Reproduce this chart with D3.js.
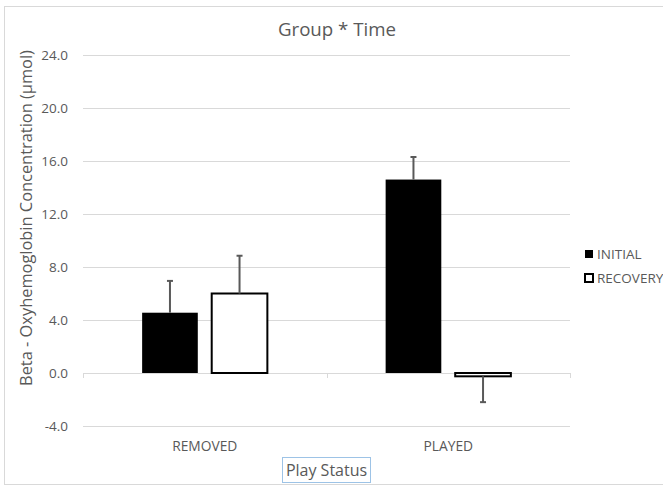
<!DOCTYPE html>
<html>
<head>
<meta charset="utf-8">
<script src="https://cdn.jsdelivr.net/npm/d3@7"></script>
<style>
    body { margin: 0; background: #fff; }
    text { font-family: "Open Sans", "Noto Sans", sans-serif; fill: #595959; }
</style>
</head>
<body>
<div id="example"></div>
<script>
(function () {
    var categories = ['REMOVED', 'PLAYED'],
        series = ['INITIAL', 'RECOVERY'],
        initialValues = [4.55, 14.6],
        recoveryValues = [6.0, -0.25],
        initialErrors = [2.4, 1.7],
        recoveryErrors = [2.85, 1.95],
        yTicks = [-4, 0, 4, 8, 12, 16, 20, 24];

    var width = 663,
        height = 486;

    var svg = d3.select('#example').append('svg')
        .attr('width', width).attr('height', height);

    // chart frame
    svg.append('rect')
        .attr('x', 4.5).attr('y', 6.5)
        .attr('width', width + 10).attr('height', height - 8)
        .style('fill', 'none').style('stroke', '#d9d9d9');

    var y = d3.scaleLinear().domain([-4, 24]).range([426, 55]);
    var x0 = d3.scaleBand().domain(categories).range([83, 570]);
    var x1 = d3.scaleBand().domain(series).range([0, x0.bandwidth()])
        .paddingInner(0.2).paddingOuter(0.85);

    var rows = categories.map(function (c, i) {
        return {
            cat: c,
            bars: [
                {s: 'INITIAL', v: initialValues[i], e: initialErrors[i]},
                {s: 'RECOVERY', v: recoveryValues[i], e: recoveryErrors[i]}
            ]
        };
    });

    var fmt = d3.formatLocale({decimal: '.', thousands: ',', grouping: [3], currency: ['', ''], minus: '-'}).format('.1f');

    // gridlines + y labels
    var grid = svg.append('g');
    grid.selectAll('line').data(yTicks).enter().append('line')
        .attr('x1', 83).attr('x2', 570)
        .attr('y1', function (d) { return Math.round(y(d)) + 0.5; })
        .attr('y2', function (d) { return Math.round(y(d)) + 0.5; })
        .style('stroke', '#d9d9d9');
    grid.selectAll('text').data(yTicks).enter().append('text')
        .attr('x', 68).attr('y', function (d) { return y(d); })
        .attr('dy', '0.35em')
        .attr('text-anchor', 'end')
        .style('font-size', '13.5px')
        .text(function (d) { return fmt(d); });

    // category ticks at zero line
    svg.append('g').selectAll('line')
        .data([83, x0.step() + 83, 570])
        .enter().append('line')
        .attr('x1', function (d) { return Math.round(d) + 0.5; })
        .attr('x2', function (d) { return Math.round(d) + 0.5; })
        .attr('y1', Math.round(y(0))).attr('y2', Math.round(y(0)) + 5)
        .style('stroke', '#d9d9d9');

    var groups = svg.append('g').selectAll('g').data(rows).enter().append('g')
        .attr('transform', function (d) { return 'translate(' + x0(d.cat) + ',0)'; });

    groups.selectAll('rect').data(function (d) { return d.bars; }).enter().append('rect')
        .attr('x', function (d) { return x1(d.s); })
        .attr('width', x1.bandwidth())
        .attr('y', function (d) { return y(Math.max(0, d.v)); })
        .attr('height', function (d) { return Math.abs(y(d.v) - y(0)); })
        .style('fill', function (d) { return d.s === 'INITIAL' ? '#000' : '#fff'; })
        .style('stroke', '#000')
        .style('stroke-width', function (d) { return d.s === 'INITIAL' ? 0 : 2; });

    // error bars (one-sided, away from zero)
    function tip(d) { return y(d.v + (d.v < 0 ? -d.e : d.e)); }
    function mid(d) { return x1(d.s) + x1.bandwidth() / 2; }
    var err = groups.selectAll('g.err').data(function (d) { return d.bars; }).enter().append('g')
        .attr('class', 'err');
    err.append('line')
        .attr('x1', mid).attr('x2', mid)
        .attr('y1', function (d) { return y(d.v); })
        .attr('y2', tip)
        .style('stroke', '#595959').style('stroke-width', 2);
    err.append('line')
        .attr('x1', function (d) { return mid(d) - 3; })
        .attr('x2', function (d) { return mid(d) + 3; })
        .attr('y1', tip).attr('y2', tip)
        .style('stroke', '#595959').style('stroke-width', 2);

    // category labels
    svg.append('g').selectAll('text').data(categories).enter().append('text')
        .attr('x', function (d) { return x0(d) + x0.bandwidth() / 2; })
        .attr('y', 451)
        .attr('text-anchor', 'middle')
        .style('font-size', '13.8px')
        .text(function (d) { return d; });

    // title
    svg.append('text')
        .attr('x', 337).attr('y', 36)
        .attr('text-anchor', 'middle')
        .style('font-size', '18.7px')
        .text('Group * Time');

    // y axis title
    svg.append('text')
        .attr('transform', 'translate(32,218) rotate(-90)')
        .attr('text-anchor', 'middle')
        .style('font-size', '16.4px')
        .text('Beta - Oxyhemoglobin Concentration (μmol)');

    // x axis title with selection box
    svg.append('rect')
        .attr('x', 282.5).attr('y', 457.5).attr('width', 88).attr('height', 25)
        .style('fill', 'none').style('stroke', '#9dc3e6');
    svg.append('text')
        .attr('x', 326.5).attr('y', 475.5)
        .attr('text-anchor', 'middle')
        .style('font-size', '16px')
        .text('Play Status');

    // legend
    var legend = svg.append('g').selectAll('g').data(series).enter().append('g')
        .attr('transform', function (d, i) { return 'translate(585,' + (254 + i * 24) + ')'; });
    legend.append('rect')
        .attr('x', 0).attr('y', -4).attr('width', 8).attr('height', 8)
        .style('fill', function (d) { return d === 'INITIAL' ? '#000' : '#fff'; })
        .style('stroke', '#000').style('stroke-width', function (d) { return d === 'INITIAL' ? 0 : 2; });
    legend.append('text')
        .attr('x', 12).attr('dy', '0.35em')
        .style('font-size', '13.5px')
        .text(function (d) { return d; });
}());
</script>
</body>
</html>
